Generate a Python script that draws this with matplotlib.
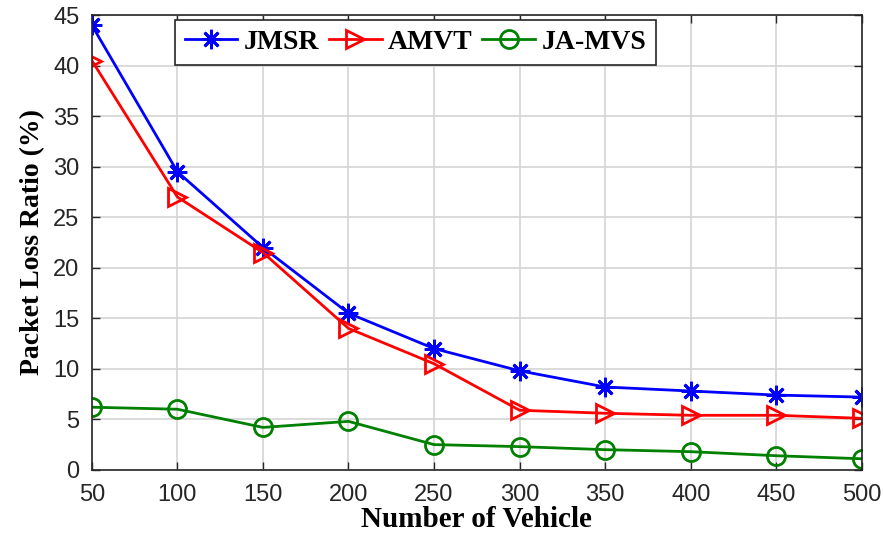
# packet loss ratio vs number of vehicles
import numpy as np
import matplotlib.pyplot as plt

vehicles = [50, 100, 150, 200, 250, 300, 350, 400, 450, 500]
jmsr = [44.0, 29.5, 22.0, 15.5, 12.0, 9.8, 8.2, 7.8, 7.4, 7.2]
amvt = [40.5, 27.0, 21.5, 14.0, 10.5, 5.9, 5.6, 5.4, 5.4, 5.1]
jamvs = [6.2, 6.0, 4.2, 4.8, 2.5, 2.3, 2.0, 1.8, 1.4, 1.1]

fig = plt.figure(figsize=(8.83, 5.37), dpi=100)
ax = fig.add_axes([0.104, 0.125, 0.872, 0.847])

# MATLAB style asterisk: 8 arms
ax.plot(vehicles, jmsr, '-', color='blue', marker=(8, 2, 0), markersize=14,
        markeredgewidth=2, linewidth=2, label='JMSR')
ax.plot(vehicles, amvt, '-', color='red', marker='>', markersize=13,
        markerfacecolor='none', markeredgewidth=2, linewidth=2, label='AMVT')
ax.plot(vehicles, jamvs, '-', color='green', marker='o', markersize=13,
        markerfacecolor='none', markeredgewidth=2, linewidth=2, label='JA-MVS')

ax.set_xlim(50, 500)
ax.set_ylim(0, 45)
ax.set_xticks(np.arange(50, 501, 50))
ax.set_yticks(np.arange(0, 46, 5))
ax.grid(True, color='#d4d4d4', linewidth=1.2)
ax.tick_params(direction='in', top=True, right=True, length=6, width=1,
               labelsize=17, colors='#262626')
ax.tick_params(axis='x', pad=10)
ax.tick_params(axis='y', pad=9)
for lab in ax.get_xticklabels() + ax.get_yticklabels():
    lab.set_family('Liberation Sans')
for s in ax.spines.values():
    s.set_color('#262626')
    s.set_linewidth(1.2)

ax.set_xlabel('Number of Vehicle', fontsize=21, fontweight='bold',
              family='Liberation Serif', labelpad=0)
ax.set_ylabel('Packet Loss Ratio (%)', fontsize=20, fontweight='bold',
              family='Liberation Serif', labelpad=6)

leg = ax.legend(loc='upper left', ncol=3, bbox_to_anchor=(0.108, 0.989),
                prop={'family': 'Liberation Serif', 'weight': 'bold', 'size': 20},
                fancybox=False, framealpha=1, edgecolor='#262626',
                handlelength=1.9, columnspacing=0.36, handletextpad=0.22,
                borderpad=0.35, borderaxespad=0)
leg.get_frame().set_linewidth(1.2)
for t in leg.get_texts():
    t.set_fontfamily('Liberation Serif')
    t.set_fontweight('bold')

plt.savefig('out.png', dpi=100)
